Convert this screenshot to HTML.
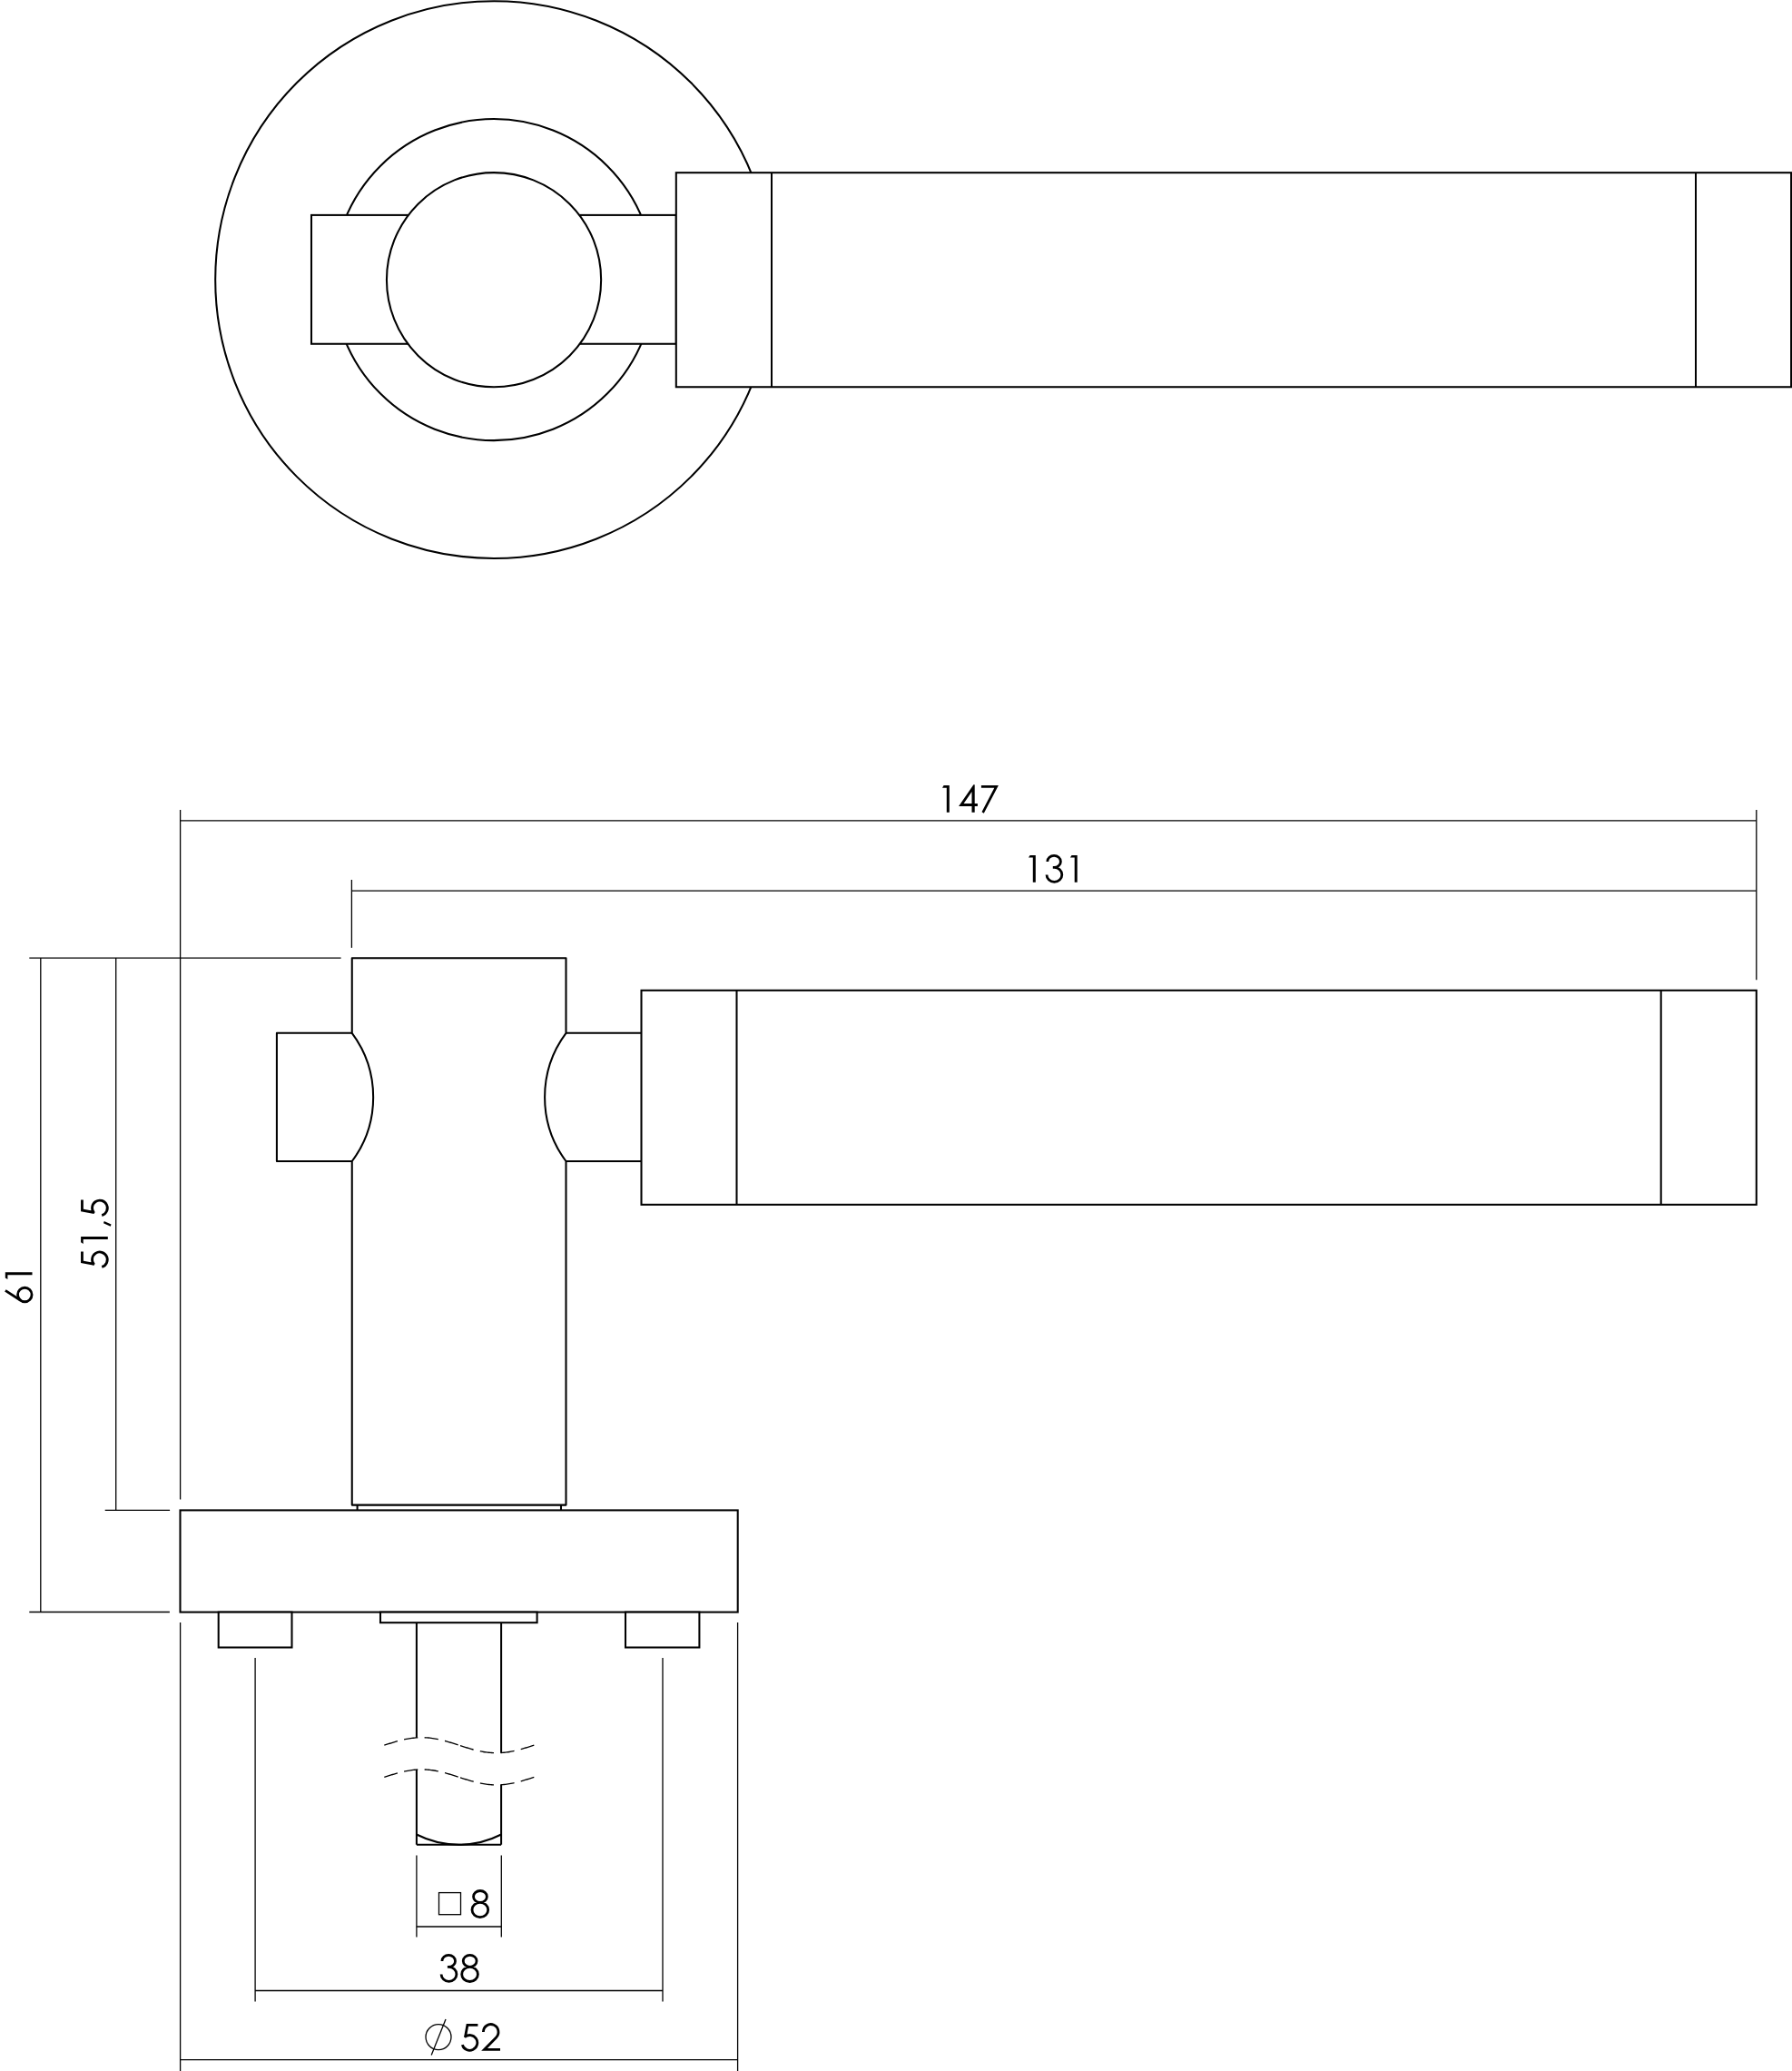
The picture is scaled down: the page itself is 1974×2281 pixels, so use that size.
<!DOCTYPE html><html><head><meta charset="utf-8"><style>html,body{margin:0;padding:0;background:#fff;overflow:hidden;}svg{display:block;}</style></head><body><svg width="1974" height="2281" viewBox="0 0 1974 2281"><rect width="1974" height="2281" fill="#fff"/><g stroke="#000" fill="none" stroke-linecap="butt"><circle cx="544.1" cy="308.1" r="306.9" fill="none" stroke-width="2.05"/><circle cx="544" cy="308.1" r="177" fill="none" stroke-width="2.05"/><rect x="343" y="236.9" width="401.8" height="141.85" fill="#fff" stroke-width="2.05"/><circle cx="544.05" cy="308.2" r="118.1" fill="#fff" stroke-width="2.05"/><rect x="744.8" y="190.2" width="1228.3" height="236.05" fill="#fff" stroke-width="2.05"/><line x1="850" y1="190.2" x2="850" y2="426.25" stroke-width="2.05"/><line x1="1868" y1="190.2" x2="1868" y2="426.25" stroke-width="2.05"/><line x1="198.6" y1="892" x2="198.6" y2="1651.4" stroke-width="1.3"/><line x1="1934.8" y1="892" x2="1934.8" y2="1079.2" stroke-width="1.3"/><line x1="198.6" y1="903.9" x2="1934.8" y2="903.9" stroke-width="1.3"/><line x1="387.4" y1="969" x2="387.4" y2="1043.9" stroke-width="1.3"/><line x1="387.4" y1="981.1" x2="1934.8" y2="981.1" stroke-width="1.3"/><line x1="32.3" y1="1055.1" x2="375.6" y2="1055.1" stroke-width="1.3"/><line x1="32.3" y1="1775.5" x2="186.9" y2="1775.5" stroke-width="1.3"/><line x1="115.7" y1="1663.4" x2="187.1" y2="1663.4" stroke-width="1.3"/><line x1="44.8" y1="1055.1" x2="44.8" y2="1775.5" stroke-width="1.3"/><line x1="127.7" y1="1055.1" x2="127.7" y2="1663.4" stroke-width="1.3"/><path d="M387.75,1055.2 L623.5,1055.2 L623.5,1137.8 A118.2,118.2 0 0 0 623.5,1279 L623.5,1657.6 L387.75,1657.6 L387.75,1279 A118.2,118.2 0 0 0 387.75,1137.8 Z" fill="#fff" stroke-width="2.05" stroke-linejoin="round"/><path d="M387.75,1137.8 L304.9,1137.8 L304.9,1279 L387.75,1279" fill="none" stroke-width="2.05" stroke-linejoin="round"/><path d="M623.5,1137.8 L706.5,1137.8 M623.5,1279 L706.5,1279" fill="none" stroke-width="2.05" /><rect x="706.5" y="1090.8" width="1228.3" height="236" fill="#fff" stroke-width="2.05"/><line x1="811.5" y1="1090.8" x2="811.5" y2="1326.8" stroke-width="2.05"/><line x1="1829.7" y1="1090.8" x2="1829.7" y2="1326.8" stroke-width="2.05"/><path d="M393.6,1657.6 L393.6,1663.4 M618.0,1657.6 L618.0,1663.4" fill="none" stroke-width="2.05" /><rect x="198.5" y="1663.4" width="614.2" height="112.2" fill="#fff" stroke-width="2.05"/><rect x="240.7" y="1775.6" width="80.8" height="38.9" fill="#fff" stroke-width="2.05"/><rect x="689" y="1775.6" width="81.4" height="38.9" fill="#fff" stroke-width="2.05"/><rect x="419" y="1775.6" width="172.6" height="11.6" fill="#fff" stroke-width="2.05"/><line x1="458.9" y1="1787.2" x2="458.9" y2="1913.89" stroke-width="2.05"/><line x1="552.1" y1="1787.2" x2="552.1" y2="1930.53" stroke-width="2.05"/><line x1="458.9" y1="1949.09" x2="458.9" y2="2031.7" stroke-width="2.05"/><line x1="552.1" y1="1965.73" x2="552.1" y2="2031.7" stroke-width="2.05"/><line x1="458.9" y1="2031.7" x2="552.1" y2="2031.7" stroke-width="2.05"/><path d="M458.9,2020.5 A102.5,102.5 0 0 0 552.1,2020.5" fill="none" stroke-width="2.05" /><path d="M423.3,1922.2 L424.82,1921.71 L426.34,1921.22 L427.87,1920.73 L429.39,1920.24 L430.91,1919.77 L432.43,1919.3 L433.95,1918.84 L435.47,1918.39 L437,1917.96 L438.52,1917.54 L440.04,1917.14 L441.56,1916.75 L443.08,1916.38 L444.61,1916.03 L446.13,1915.7 L447.65,1915.39 L449.17,1915.11 L450.69,1914.85 L452.21,1914.62 L453.74,1914.41 L455.26,1914.22 L456.78,1914.07 L458.3,1913.94 L459.82,1913.83 L461.35,1913.76 L462.87,1913.72 L464.39,1913.7 L465.91,1913.71 L467.43,1913.75 L468.95,1913.82 L470.48,1913.92 L472,1914.04 L473.52,1914.2 L475.04,1914.38 L476.56,1914.58 L478.09,1914.81 L479.61,1915.07 L481.13,1915.35 L482.65,1915.66 L484.17,1915.98 L485.69,1916.33 L487.22,1916.69 L488.74,1917.08 L490.26,1917.48 L491.78,1917.9 L493.3,1918.33 L494.83,1918.78 L496.35,1919.23 L497.87,1919.7 L499.39,1920.18 L500.91,1920.66 L502.43,1921.14 L503.96,1921.64 L505.48,1922.13 L507,1922.62" fill="none" stroke-width="1.35" stroke-dasharray="15.3 7.4"/><path d="M507,1922.62 L508.51,1923.11 L510.01,1923.59 L511.52,1924.07 L513.02,1924.54 L514.53,1925.01 L516.03,1925.46 L517.54,1925.91 L519.04,1926.34 L520.55,1926.76 L522.06,1927.16 L523.56,1927.55 L525.07,1927.92 L526.57,1928.27 L528.08,1928.6 L529.58,1928.91 L531.09,1929.2 L532.59,1929.47 L534.1,1929.71 L535.61,1929.92 L537.11,1930.11 L538.62,1930.28 L540.12,1930.42 L541.63,1930.53 L543.13,1930.61 L544.64,1930.67 L546.14,1930.7 L547.65,1930.7 L549.16,1930.67 L550.66,1930.61 L552.17,1930.53 L553.67,1930.42 L555.18,1930.28 L556.68,1930.12 L558.19,1929.92 L559.69,1929.71 L561.2,1929.47 L562.71,1929.2 L564.21,1928.91 L565.72,1928.6 L567.22,1928.27 L568.73,1927.92 L570.23,1927.55 L571.74,1927.16 L573.24,1926.76 L574.75,1926.34 L576.26,1925.91 L577.76,1925.46 L579.27,1925.01 L580.77,1924.54 L582.28,1924.07 L583.78,1923.59 L585.29,1923.11 L586.79,1922.62 L588.3,1922.14" fill="none" stroke-width="1.35" stroke-dasharray="15.3 7.4"/><path d="M423.3,1957.4 L424.82,1956.91 L426.34,1956.42 L427.87,1955.93 L429.39,1955.44 L430.91,1954.97 L432.43,1954.5 L433.95,1954.04 L435.47,1953.59 L437,1953.16 L438.52,1952.74 L440.04,1952.34 L441.56,1951.95 L443.08,1951.58 L444.61,1951.23 L446.13,1950.9 L447.65,1950.59 L449.17,1950.31 L450.69,1950.05 L452.21,1949.82 L453.74,1949.61 L455.26,1949.42 L456.78,1949.27 L458.3,1949.14 L459.82,1949.03 L461.35,1948.96 L462.87,1948.92 L464.39,1948.9 L465.91,1948.91 L467.43,1948.95 L468.95,1949.02 L470.48,1949.12 L472,1949.24 L473.52,1949.4 L475.04,1949.58 L476.56,1949.78 L478.09,1950.01 L479.61,1950.27 L481.13,1950.55 L482.65,1950.86 L484.17,1951.18 L485.69,1951.53 L487.22,1951.89 L488.74,1952.28 L490.26,1952.68 L491.78,1953.1 L493.3,1953.53 L494.83,1953.98 L496.35,1954.43 L497.87,1954.9 L499.39,1955.38 L500.91,1955.86 L502.43,1956.34 L503.96,1956.84 L505.48,1957.33 L507,1957.82" fill="none" stroke-width="1.35" stroke-dasharray="15.3 7.4"/><path d="M507,1957.82 L508.51,1958.31 L510.01,1958.79 L511.52,1959.27 L513.02,1959.74 L514.53,1960.21 L516.03,1960.66 L517.54,1961.11 L519.04,1961.54 L520.55,1961.96 L522.06,1962.36 L523.56,1962.75 L525.07,1963.12 L526.57,1963.47 L528.08,1963.8 L529.58,1964.11 L531.09,1964.4 L532.59,1964.67 L534.1,1964.91 L535.61,1965.12 L537.11,1965.31 L538.62,1965.48 L540.12,1965.62 L541.63,1965.73 L543.13,1965.81 L544.64,1965.87 L546.14,1965.9 L547.65,1965.9 L549.16,1965.87 L550.66,1965.81 L552.17,1965.73 L553.67,1965.62 L555.18,1965.48 L556.68,1965.32 L558.19,1965.12 L559.69,1964.91 L561.2,1964.67 L562.71,1964.4 L564.21,1964.11 L565.72,1963.8 L567.22,1963.47 L568.73,1963.12 L570.23,1962.75 L571.74,1962.36 L573.24,1961.96 L574.75,1961.54 L576.26,1961.11 L577.76,1960.66 L579.27,1960.21 L580.77,1959.74 L582.28,1959.27 L583.78,1958.79 L585.29,1958.31 L586.79,1957.82 L588.3,1957.34" fill="none" stroke-width="1.35" stroke-dasharray="15.3 7.4"/><line x1="458.9" y1="2043.4" x2="458.9" y2="2133.4" stroke-width="1.3"/><line x1="552.3" y1="2043.4" x2="552.3" y2="2133.4" stroke-width="1.3"/><line x1="458.9" y1="2122" x2="552.3" y2="2122" stroke-width="1.3"/><rect x="483.5" y="2084.6" width="24" height="24.1" fill="none" stroke-width="1.3"/><line x1="281.1" y1="1826" x2="281.1" y2="2204.6" stroke-width="1.3"/><line x1="730" y1="1826" x2="730" y2="2204.6" stroke-width="1.3"/><line x1="281.1" y1="2192.5" x2="730" y2="2192.5" stroke-width="1.3"/><line x1="198.6" y1="1787" x2="198.6" y2="2282" stroke-width="1.3"/><line x1="812.6" y1="1787" x2="812.6" y2="2282" stroke-width="1.3"/><line x1="198.6" y1="2268.55" x2="812.6" y2="2268.55" stroke-width="1.3"/><circle cx="483" cy="2243.6" r="14" fill="none" stroke-width="1.3"/><line x1="491" y1="2224" x2="475.2" y2="2263.6" stroke-width="1.3"/></g><g><path transform="translate(1038,865.1)" d="M1.6,0 L7.8,0 L7.8,29.7 L4.8,29.7 L4.8,2.6 L0,2.6 Z" fill="#000" fill-rule="evenodd"/><path transform="translate(1056.1,865.1)" d="M16.3,-0.9 L17.6,-0.9 L17.6,19.95 L20.8,19.95 L20.8,22.8 L17.6,22.8 L17.6,29.7 L14.4,29.7 L14.4,22.8 L0,22.8 Z M5.5,19.95 L14.4,19.95 L14.4,7.0 Z" fill="#000" fill-rule="evenodd"/><path transform="translate(1080.9,865.1)" d="M0,0 L19.0,0 L2.9,30.6 L0.6,29.25 L14.4,2.7 L0,2.7 Z" fill="#000" fill-rule="evenodd"/><path transform="translate(1133,942)" d="M1.6,0 L7.8,0 L7.8,29.7 L4.8,29.7 L4.8,2.6 L0,2.6 Z" fill="#000" fill-rule="evenodd"/><path transform="translate(1151.4,942)" d="M2.4,6.9 A7.3,6.5 0 1 1 9.7,13.4 H8.4 M8.4,13.4 H10.0 A8.4,8.0 0 1 1 1.6,21.4" fill="none" stroke="#000" stroke-width="2.8" stroke-linecap="butt" stroke-linejoin="miter"/><path transform="translate(1178.9,942)" d="M1.6,0 L7.8,0 L7.8,29.7 L4.8,29.7 L4.8,2.6 L0,2.6 Z" fill="#000" fill-rule="evenodd"/><path transform="translate(518.7,2082.1)" d="M2.85,6.85 A7.4,6.45 0 1 1 17.65,6.85 A7.4,6.45 0 1 1 2.85,6.85 Z M1.3,21.4 A8.85,8.1 0 1 1 19.0,21.4 A8.85,8.1 0 1 1 1.3,21.4 Z" fill="none" stroke="#000" stroke-width="2.8" stroke-linecap="butt" stroke-linejoin="miter"/><path transform="translate(484.5,2153)" d="M2.4,6.9 A7.3,6.5 0 1 1 9.7,13.4 H8.4 M8.4,13.4 H10.0 A8.4,8.0 0 1 1 1.6,21.4" fill="none" stroke="#000" stroke-width="2.8" stroke-linecap="butt" stroke-linejoin="miter"/><path transform="translate(507.4,2153)" d="M2.85,6.85 A7.4,6.45 0 1 1 17.65,6.85 A7.4,6.45 0 1 1 2.85,6.85 Z M1.3,21.4 A8.85,8.1 0 1 1 19.0,21.4 A8.85,8.1 0 1 1 1.3,21.4 Z" fill="none" stroke="#000" stroke-width="2.8" stroke-linecap="butt" stroke-linejoin="miter"/><path transform="translate(507.9,2229.1)" d="M18.5,1.35 H7.0 L4.5,14.8 M3.88,14.56 A8.4,8.4 0 1 1 1.43,23.12" fill="none" stroke="#000" stroke-width="2.8" stroke-linecap="butt" stroke-linejoin="miter"/><path transform="translate(530.7,2229.1)" d="M1.7,9.0 A8.3,8.5 0 1 1 15.77,15.11 L2.8,28.35 H20.3" fill="none" stroke="#000" stroke-width="2.8" stroke-linecap="butt" stroke-linejoin="miter"/><path d="M5.9,1421.3 L23.1,1432.5" stroke="#000" stroke-width="2.8" fill="none"/><circle cx="27.3" cy="1426.0" r="7.75" stroke="#000" stroke-width="2.8" fill="none"/><path transform="matrix(0,-1,1,0,5.8,1409.05)" d="M1.6,0 L7.8,0 L7.8,29.7 L4.8,29.7 L4.8,2.6 L0,2.6 Z" fill="#000" fill-rule="evenodd"/><path transform="matrix(0,-1,1,0,89.1,1396.9)" d="M18.5,1.35 H7.0 L4.5,14.8 M3.88,14.56 A8.4,8.4 0 1 1 1.43,23.12" fill="none" stroke="#000" stroke-width="2.8" stroke-linecap="butt" stroke-linejoin="miter"/><path transform="matrix(0,-1,1,0,89.1,1369.9)" d="M1.6,0 L7.8,0 L7.8,29.7 L4.8,29.7 L4.8,2.6 L0,2.6 Z" fill="#000" fill-rule="evenodd"/><path d="M114.75,1345.0 L114.0,1347.2 L121.75,1350.8 L122.5,1348.6 Z" fill="#000"/><path transform="matrix(0,-1,1,0,89.1,1340)" d="M18.5,1.35 H7.0 L4.5,14.8 M3.88,14.56 A8.4,8.4 0 1 1 1.43,23.12" fill="none" stroke="#000" stroke-width="2.8" stroke-linecap="butt" stroke-linejoin="miter"/></g></svg></body></html>
